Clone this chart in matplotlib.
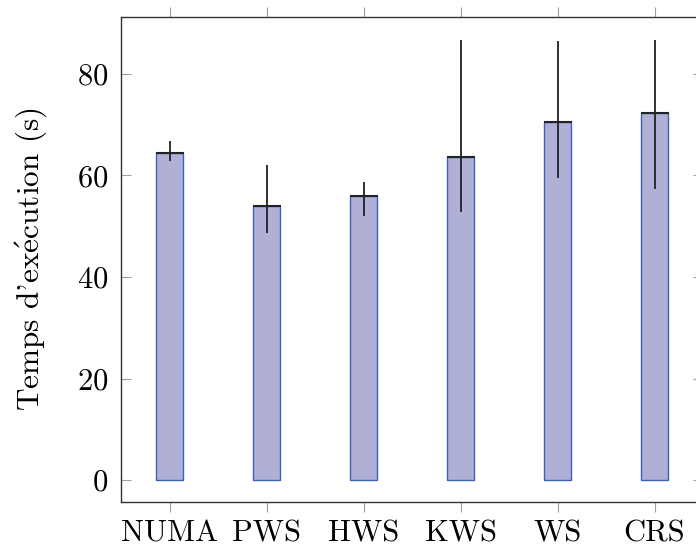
import matplotlib
matplotlib.use("Agg")
import matplotlib.pyplot as plt
import numpy as np

# data
schedulers = ["NUMA", "PWS", "HWS", "KWS", "WS", "CRS"]
mean_time = [64.4, 54.0, 56.0, 63.6, 70.6, 72.2]
min_time = [62.8, 48.6, 52.1, 52.9, 59.4, 57.3]
max_time = [66.8, 62.0, 58.7, 86.7, 86.4, 86.7]
yticks = [0, 20, 40, 60, 80]

plt.rcParams["font.family"] = ["cmr10", "DejaVu Serif"]
plt.rcParams["mathtext.fontset"] = "cm"
plt.rcParams["axes.formatter.use_mathtext"] = True

fig = plt.figure(figsize=(6.96, 5.52), dpi=100)
# the right edge of the axes is cut off in the reference
ax = fig.add_axes([121 / 696, 50 / 552, 582 / 696, 485 / 552])

x = np.arange(len(schedulers))
mean = np.array(mean_time)
lo = mean - np.array(min_time)
hi = np.array(max_time) - mean

ax.bar(x, mean, width=0.28, color="#b0b0d6", edgecolor="#3a62b8", linewidth=1.0, zorder=2)
ax.errorbar(x, mean, yerr=[lo, hi], fmt="_", color="#222222", ecolor="#222222",
            elinewidth=1.3, markersize=19.5, markeredgewidth=1.5, capsize=0, zorder=3)

ax.set_xlim(-0.5, 5.5)
ax.set_ylim(-4.3, 91.2)
ax.set_xticks(x)
ax.set_xticklabels(schedulers)
ax.set_yticks(yticks)
ax.set_ylabel("Temps d'ex" + r"$\mathrm{\acute{e}}$" + "cution (s)", fontsize=22.5, labelpad=20)

ax.tick_params(axis="x", which="both", direction="out", length=7.5, width=0.8,
               color="#a0a0a0", top=True, bottom=True, labelsize=22, pad=5.5)
ax.tick_params(axis="y", which="both", direction="in", length=7.5, width=0.8,
               color="#a0a0a0", left=True, right=True, labelsize=22, pad=9)

for s in ax.spines.values():
    s.set_color("#333333")
    s.set_linewidth(1.0)

fig.savefig("out.png", dpi=100)
